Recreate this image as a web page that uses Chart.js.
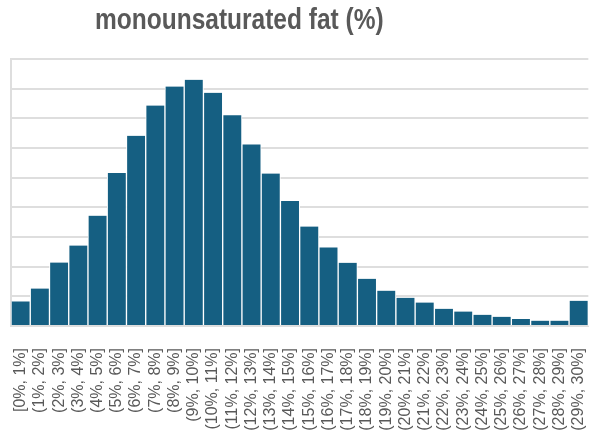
<!DOCTYPE html>
<html>
<head>
<meta charset="utf-8">
<script src="https://cdn.jsdelivr.net/npm/chart.js@4/dist/chart.umd.min.js"></script>
<style>
  html, body { margin: 0; padding: 0; background: #fff; }
  #wrap { position: relative; width: 612px; height: 431px; }
  #title {
    position: absolute; left: 95px; top: 3px;
    font-family: "Liberation Sans", Arial, sans-serif;
    font-weight: bold; font-size: 29px; color: #595959; white-space: nowrap;
    transform: scaleX(0.845); transform-origin: left top;
  }
  canvas { position: absolute; left: 0; top: 0; }
</style>
</head>
<body>
<div id="wrap">
  <canvas id="c" width="612" height="431"></canvas>
  <div id="title">monounsaturated fat (%)</div>
</div>
<script>
// bins of monounsaturated fat share
const binLabels = [
  '[0%, 1%]', '(1%, 2%]', '(2%, 3%]', '(3%, 4%]', '(4%, 5%]',
  '(5%, 6%]', '(6%, 7%]', '(7%, 8%]', '(8%, 9%]', '(9%, 10%]',
  '(10%, 11%]', '(11%, 12%]', '(12%, 13%]', '(13%, 14%]', '(14%, 15%]',
  '(15%, 16%]', '(16%, 17%]', '(17%, 18%]', '(18%, 19%]', '(19%, 20%]',
  '(20%, 21%]', '(21%, 22%]', '(22%, 23%]', '(23%, 24%]', '(24%, 25%]',
  '(25%, 26%]', '(26%, 27%]', '(27%, 28%]', '(28%, 29%]', '(29%, 30%]'
];

// bar heights, in gridline units (no axis values shown in the original)
const counts = [
  0.83, 1.26, 2.14, 2.71, 3.72, 5.16, 6.41, 7.43, 8.07, 8.30,
  7.86, 7.10, 6.12, 5.14, 4.21, 3.35, 2.65, 2.13, 1.59, 1.19,
  0.95, 0.79, 0.58, 0.49, 0.38, 0.31, 0.24, 0.18, 0.18, 0.85
];

const yTicks = [0, 1, 2, 3, 4, 5, 6, 7, 8, 9];

const BAR_COLOR   = '#155f82';
const GRID_COLOR  = '#dedede';
const LABEL_COLOR = '#595959';

new Chart(document.getElementById('c'), {
  type: 'bar',
  data: {
    labels: binLabels,
    datasets: [{
      data: counts,
      backgroundColor: BAR_COLOR,
      borderColor: '#ffffff',
      borderWidth: { left: 1, right: 1, top: 0, bottom: 0 },
      borderSkipped: false,
      barPercentage: 1,
      categoryPercentage: 1,
    }],
  },
  options: {
    responsive: false,
    animation: false,
    layout: { padding: { left: 11, right: 6, top: 59, bottom: 0 } },
    plugins: { legend: { display: false }, tooltip: { enabled: false } },
    scales: {
      x: {
        grid: { display: false },
        border: { display: true, color: GRID_COLOR, width: 1 },
        ticks: {
          color: LABEL_COLOR,
          font: { family: "'Liberation Sans', Arial, sans-serif", size: 16 },
          minRotation: 90,
          maxRotation: 90,
          autoSkip: false,
          padding: 14,
        },
        // fixed band for the rotated bin labels
        afterFit: axis => { axis.height = 105; },
      },
      y: {
        min: yTicks[0],
        max: yTicks[yTicks.length - 1],
        afterBuildTicks: axis => { axis.ticks = yTicks.map(v => ({ value: v })); },
        ticks: { display: false },
        grid: { color: GRID_COLOR, lineWidth: 2, drawTicks: false },
        border: { display: true, color: GRID_COLOR, width: 2 },
      },
    },
  },
});
</script>
</body>
</html>
